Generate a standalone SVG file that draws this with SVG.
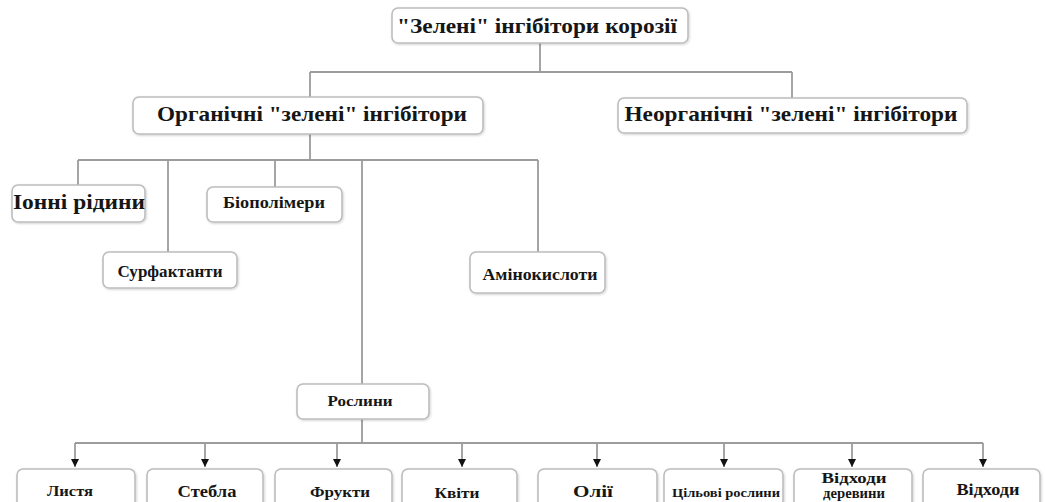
<svg xmlns="http://www.w3.org/2000/svg" width="1045" height="502" viewBox="0 0 1045 502">
<style>
.box{fill:#fff;stroke:#bdbdbd;stroke-width:1.6;filter:url(#sh)}
.t{font-family:"Liberation Serif","Times New Roman",serif;font-weight:bold;fill:#161616;text-anchor:middle}
.c{fill:none;stroke:#9c9c9c;stroke-width:1.8}
</style>
<defs>
<filter id="sh" x="-10%" y="-20%" width="120%" height="150%">
<feDropShadow dx="0.8" dy="1" stdDeviation="0.8" flood-color="#000" flood-opacity="0.18"/>
</filter>
<marker id="ar" markerUnits="userSpaceOnUse" markerWidth="9" markerHeight="9" refX="8" refY="4" orient="auto">
<path d="M0,0 L8,4 L0,8 z" fill="#111"/>
</marker>
</defs>
<rect width="1045" height="502" fill="#fff"/>
<g id="connectors">
<path class="c" d="M540 43 V72 M310 72 H792 M310 72 V97 M792 72 V98 M310 134 V160 M78 160 H538 M78 160 V185 M168 160 V252 M275 160 V187 M362 160 V384 M538 160 V252 M362 419 V443 M75 443 H983"/>
<g class="c" marker-end="url(#ar)">
<path d="M75 443 V467"/><path d="M205 443 V467"/><path d="M337 443 V467"/><path d="M462 443 V467"/>
<path d="M597 443 V467"/><path d="M724 443 V467"/><path d="M852 443 V467"/><path d="M983 443 V467"/>
</g>
</g>
<g id="n-title"><rect class="box" x="392" y="8" width="296" height="35" rx="6"/><text class="t" x="537" y="33" font-size="22" textLength="280" lengthAdjust="spacingAndGlyphs">"Зелені" інгібітори корозії</text></g>
<g id="n-organic"><rect class="box" x="133" y="97" width="350" height="37" rx="6"/><text class="t" x="312" y="121" font-size="22" textLength="310" lengthAdjust="spacingAndGlyphs">Органічні "зелені" інгібітори</text></g>
<g id="n-inorganic"><rect class="box" x="618" y="98" width="349" height="35" rx="6"/><text class="t" x="791" y="121" font-size="22" textLength="333" lengthAdjust="spacingAndGlyphs">Неорганічні "зелені" інгібітори</text></g>
<g id="n-ionic"><rect class="box" x="12" y="185" width="133" height="37" rx="6"/><text class="t" x="79" y="209" font-size="22" textLength="132" lengthAdjust="spacingAndGlyphs">Іонні рідини</text></g>
<g id="n-biopolymer"><rect class="box" x="207" y="187" width="135" height="35" rx="6"/><text class="t" x="274" y="208" font-size="16" textLength="102" lengthAdjust="spacingAndGlyphs">Біополімери</text></g>
<g id="n-surfactant"><rect class="box" x="103" y="252" width="134" height="36" rx="6"/><text class="t" x="170" y="277" font-size="16" textLength="105" lengthAdjust="spacingAndGlyphs">Сурфактанти</text></g>
<g id="n-amino"><rect class="box" x="470" y="252" width="135" height="41" rx="6"/><text class="t" x="540" y="280" font-size="16" textLength="115" lengthAdjust="spacingAndGlyphs">Амінокислоти</text></g>
<g id="n-plants"><rect class="box" x="297" y="384" width="132" height="35" rx="6"/><text class="t" x="360" y="406" font-size="15" textLength="65" lengthAdjust="spacingAndGlyphs">Рослини</text></g>
<g id="n-leaves"><rect class="box" x="17" y="469" width="118" height="45" rx="6"/><text class="t" x="70" y="496" font-size="15" textLength="46" lengthAdjust="spacingAndGlyphs">Листя</text></g>
<g id="n-stems"><rect class="box" x="147" y="469" width="116" height="45" rx="6"/><text class="t" x="207" y="497" font-size="16" textLength="59" lengthAdjust="spacingAndGlyphs">Стебла</text></g>
<g id="n-fruits"><rect class="box" x="275" y="469" width="117" height="45" rx="6"/><text class="t" x="340" y="497" font-size="15" textLength="60" lengthAdjust="spacingAndGlyphs">Фрукти</text></g>
<g id="n-flowers"><rect class="box" x="402" y="469" width="115" height="45" rx="6"/><text class="t" x="457" y="498" font-size="15" textLength="45" lengthAdjust="spacingAndGlyphs">Квіти</text></g>
<g id="n-oils"><rect class="box" x="538" y="469" width="119" height="45" rx="6"/><text class="t" x="593" y="497" font-size="17" textLength="40" lengthAdjust="spacingAndGlyphs">Олії</text></g>
<g id="n-target"><rect class="box" x="664" y="469" width="119" height="45" rx="6"/><text class="t" x="726" y="497" font-size="13" textLength="108" lengthAdjust="spacingAndGlyphs">Цільові рослини</text></g>
<g id="n-woodwaste"><rect class="box" x="794" y="469" width="118" height="45" rx="6"/><text class="t" x="854" y="483" font-size="15" textLength="65" lengthAdjust="spacingAndGlyphs">Відходи</text><text class="t" x="854" y="498" font-size="15" textLength="62" lengthAdjust="spacingAndGlyphs">деревини</text></g>
<g id="n-waste"><rect class="box" x="923" y="469" width="117" height="45" rx="6"/><text class="t" x="988" y="495" font-size="16" textLength="63" lengthAdjust="spacingAndGlyphs">Відходи</text></g>
</svg>
